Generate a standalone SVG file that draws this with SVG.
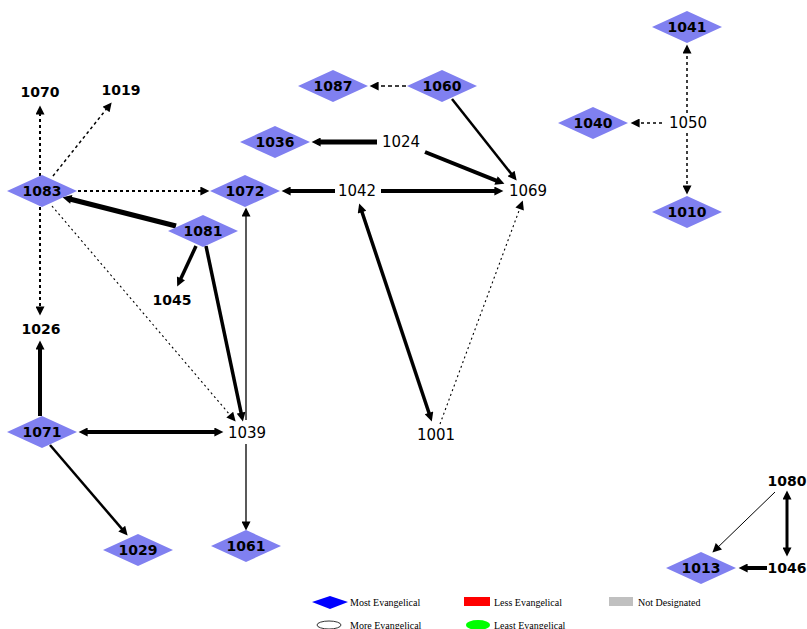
<svg xmlns="http://www.w3.org/2000/svg" width="807" height="629" viewBox="0 0 807 629">
  <style>
    .dia { fill: #8080f0; stroke: none; }
    .lbl { font-family: "DejaVu Sans", sans-serif; font-size: 15px; fill: #000; text-anchor: middle; dominant-baseline: central; }
    .b { font-weight: bold; font-size: 14px; }
    .e { fill: none; stroke: #000; marker-end: url(#arr); }
    .both { marker-start: url(#arr); }
    .dot { stroke-dasharray: 3 3; }
    .fine { stroke-dasharray: 2 3; }
    .leg { font-family: "Liberation Serif", "Times New Roman", serif; font-size: 10px; fill: #000; dominant-baseline: central; }
  </style>
  <defs>
    <marker id="arr" viewBox="0 0 10 10" refX="4" refY="5" markerWidth="11" markerHeight="9" markerUnits="userSpaceOnUse" orient="auto-start-reverse">
      <path d="M0,0 L10,5 L0,10 z" fill="#000"/>
    </marker>
  </defs>
  <rect width="807" height="629" fill="#fff"/>

  <g id="edges">
    <!-- from 1083 -->
    <line class="e dot" x1="40" y1="176" x2="40" y2="111" stroke-width="2"/>
    <line class="e dot" x1="53" y1="176" x2="108.3" y2="106.7" stroke-width="1.5"/>
    <line class="e dot" x1="78" y1="191" x2="204" y2="191" stroke-width="2"/>
    <line class="e dot" x1="40" y1="207" x2="40" y2="310" stroke-width="2"/>
    <line class="e fine" x1="52" y1="206" x2="232.1" y2="417.4" stroke-width="1.1"/>
    <!-- from 1081 -->
    <line class="e" x1="176" y1="226" x2="67.8" y2="198.5" stroke-width="5"/>
    <line class="e" x1="196" y1="246" x2="179.5" y2="281.6" stroke-width="3.5"/>
    <line class="e" x1="206" y1="246" x2="241.8" y2="416.1" stroke-width="3.5"/>
    <!-- from 1039 -->
    <line class="e" x1="246" y1="420" x2="246" y2="213" stroke-width="1.3"/>
    <line class="e" x1="246" y1="444" x2="246" y2="525" stroke-width="1.3"/>
    <!-- from 1071 -->
    <line class="e both" x1="84" y1="432" x2="218" y2="432" stroke-width="4"/>
    <line class="e" x1="40" y1="416" x2="40" y2="346" stroke-width="4"/>
    <line class="e" x1="50" y1="445" x2="124.1" y2="531.4" stroke-width="2.5"/>
    <!-- from 1060 -->
    <line class="e" x1="406" y1="86" x2="375" y2="86" stroke-width="1.5" stroke-dasharray="4 3"/>
    <line class="e" x1="452" y1="99" x2="513.3" y2="176.3" stroke-width="2.5"/>
    <!-- from 1024 -->
    <line class="e" x1="377" y1="142" x2="317" y2="142" stroke-width="5"/>
    <line class="e" x1="425" y1="152" x2="499.4" y2="181.8" stroke-width="4"/>
    <!-- from 1042 -->
    <line class="e" x1="335" y1="191" x2="287" y2="191" stroke-width="4"/>
    <line class="e" x1="381" y1="191" x2="498" y2="191" stroke-width="4"/>
    <line class="e both" x1="360.9" y1="208.7" x2="430.1" y2="416.3" stroke-width="3.5"/>
    <!-- from 1001 -->
    <line class="e fine" x1="440" y1="424" x2="520.9" y2="205.6" stroke-width="1.1"/>
    <!-- from 1050 -->
    <line class="e dot" x1="687" y1="113" x2="687" y2="50" stroke-width="1.5"/>
    <line class="e dot" x1="662" y1="123" x2="636" y2="123" stroke-width="1.5"/>
    <line class="e dot" x1="687" y1="133" x2="687" y2="189" stroke-width="1.5"/>
    <!-- 1080 / 1046 -->
    <line class="e" x1="775" y1="492" x2="716.3" y2="548.8" stroke-width="1"/>
    <line class="e both" x1="787" y1="496" x2="787" y2="551" stroke-width="3"/>
    <line class="e" x1="767" y1="568" x2="744" y2="568" stroke-width="4"/>
  </g>

  <g id="n1083"><polygon class="dia" points="7,191 42,175 77,191 42,207"/><text class="lbl b" x="42" y="191">1083</text></g>
  <g id="n1072"><polygon class="dia" points="210,191 245,175 280,191 245,207"/><text class="lbl b" x="245" y="191">1072</text></g>
  <g id="n1081"><polygon class="dia" points="168,231 203,215 238,231 203,247"/><text class="lbl b" x="203" y="231">1081</text></g>
  <g id="n1087"><polygon class="dia" points="298,86 333,70 368,86 333,102"/><text class="lbl b" x="333" y="86">1087</text></g>
  <g id="n1060"><polygon class="dia" points="407,86 442,70 477,86 442,102"/><text class="lbl b" x="442" y="86">1060</text></g>
  <g id="n1036"><polygon class="dia" points="240,142 275,126 310,142 275,158"/><text class="lbl b" x="275" y="142">1036</text></g>
  <g id="n1071"><polygon class="dia" points="7,432 42,416 77,432 42,448"/><text class="lbl b" x="42" y="432">1071</text></g>
  <g id="n1029"><polygon class="dia" points="103,550 138,534 173,550 138,566"/><text class="lbl b" x="138" y="550">1029</text></g>
  <g id="n1061"><polygon class="dia" points="211,546 246,530 281,546 246,562"/><text class="lbl b" x="246" y="546">1061</text></g>
  <g id="n1041"><polygon class="dia" points="652,27 687,11 722,27 687,43"/><text class="lbl b" x="687" y="27">1041</text></g>
  <g id="n1040"><polygon class="dia" points="558,123 593,107 628,123 593,139"/><text class="lbl b" x="593" y="123">1040</text></g>
  <g id="n1010"><polygon class="dia" points="652,212 687,196 722,212 687,228"/><text class="lbl b" x="687" y="212">1010</text></g>
  <g id="n1013"><polygon class="dia" points="666,568 701,552 736,568 701,584"/><text class="lbl b" x="701" y="568">1013</text></g>

  <g id="n1070"><text class="lbl b" x="40" y="92">1070</text></g>
  <g id="n1019"><text class="lbl b" x="121" y="90">1019</text></g>
  <g id="n1024"><text class="lbl" x="401" y="142">1024</text></g>
  <g id="n1042"><text class="lbl" x="357" y="191">1042</text></g>
  <g id="n1069"><text class="lbl" x="528" y="191">1069</text></g>
  <g id="n1045"><text class="lbl b" x="172" y="300">1045</text></g>
  <g id="n1026"><text class="lbl b" x="41" y="329">1026</text></g>
  <g id="n1039"><text class="lbl" x="247" y="433">1039</text></g>
  <g id="n1001"><text class="lbl" x="436" y="435">1001</text></g>
  <g id="n1050"><text class="lbl" x="688" y="123">1050</text></g>
  <g id="n1080"><text class="lbl b" x="787" y="481">1080</text></g>
  <g id="n1046"><text class="lbl b" x="787" y="568">1046</text></g>

  <g id="legend">
    <polygon points="312,602 330,596 348,602 330,609" fill="#0000ff"/>
    <text class="leg" x="350" y="602">Most Evangelical</text>
    <rect x="464" y="597" width="26" height="9" fill="#ff0000"/>
    <text class="leg" x="494" y="602">Less Evangelical</text>
    <rect x="609" y="597" width="24" height="9" fill="#c0c0c0"/>
    <text class="leg" x="638" y="602">Not Designated</text>
    <ellipse cx="329" cy="625" rx="12" ry="4" fill="#fff" stroke="#000" stroke-width="0.8"/>
    <text class="leg" x="350" y="625">More Evangelical</text>
    <ellipse cx="478" cy="625" rx="12" ry="5" fill="#00ff00"/>
    <text class="leg" x="494" y="625">Least Evangelical</text>
  </g>
</svg>
